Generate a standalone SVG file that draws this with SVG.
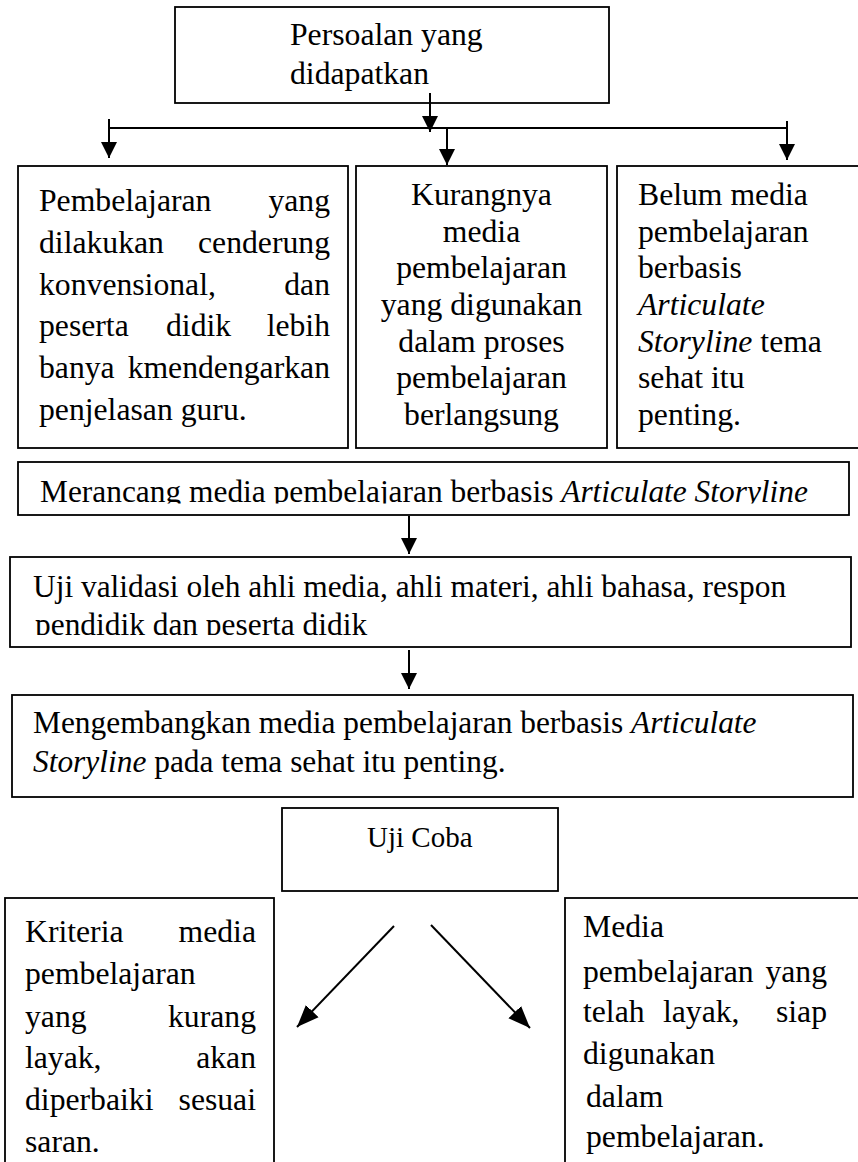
<svg xmlns="http://www.w3.org/2000/svg" width="858" height="1162" viewBox="0 0 858 1162">
<style>
.box{fill:#fff;stroke:#000;stroke-width:1.8}
.t{font-family:"Liberation Serif","Times New Roman",serif;font-size:31.7px;fill:#000}
.w{font-size:31.4px}
.s{font-size:29px}
.i{font-style:italic}
.e{text-anchor:end}
.m{text-anchor:middle}
.c{stroke:#000;stroke-width:2;fill:none}
</style>
<defs>
<marker id="ah" markerUnits="userSpaceOnUse" markerWidth="16" markerHeight="16" refX="15" refY="7.5" orient="auto" viewBox="0 0 15 15"><path d="M0,0 L15,7.5 L0,15 z" fill="#000"/></marker>
<marker id="ah2" markerUnits="userSpaceOnUse" markerWidth="22" markerHeight="18" refX="20" refY="8" orient="auto" viewBox="0 0 20 16"><path d="M0,0 L20,8 L0,16 z" fill="#000"/></marker>
<clipPath id="clip1"><rect x="0" y="462" width="858" height="41.5"/></clipPath>
<clipPath id="clip2"><rect x="0" y="557" width="858" height="78"/></clipPath>
</defs>

<g id="n-persoalan">
<rect class="box" x="175" y="7" width="434" height="96"/>
<text class="t" x="290" y="45">Persoalan yang</text>
<text class="t" x="290" y="84">didapatkan</text>
</g>

<g id="n-konvensional">
<rect class="box" x="18" y="166" width="330" height="282"/>
<text class="t" x="39" y="211">Pembelajaran</text><text class="t e" x="330" y="211">yang</text>
<text class="t" x="39" y="253">dilakukan</text><text class="t e" x="330" y="253">cenderung</text>
<text class="t" x="39" y="295">konvensional,</text><text class="t e" x="330" y="295">dan</text>
<text class="t" x="39" y="336">peserta</text><text class="t" x="166" y="336">didik</text><text class="t e" x="330" y="336">lebih</text>
<text class="t" x="39" y="378">banya</text><text class="t e" x="330" y="378">kmendengarkan</text>
<text class="t" x="39" y="420">penjelasan guru.</text>
</g>

<g id="n-kurangnya">
<rect class="box" x="356" y="166" width="251" height="282"/>
<text class="t m" x="481.5" y="205">Kurangnya</text>
<text class="t m" x="481.5" y="242">media</text>
<text class="t m" x="481.5" y="278">pembelajaran</text>
<text class="t m" x="481.5" y="315">yang digunakan</text>
<text class="t m" x="481.5" y="352">dalam proses</text>
<text class="t m" x="481.5" y="388">pembelajaran</text>
<text class="t m" x="481.5" y="425">berlangsung</text>
</g>

<g id="n-belum">
<rect class="box" x="617" y="166" width="260" height="282"/>
<text class="t" x="638" y="205">Belum media</text>
<text class="t" x="638" y="242">pembelajaran</text>
<text class="t" x="638" y="278">berbasis</text>
<text class="t i" x="638" y="315">Articulate</text>
<text class="t" x="638" y="352"><tspan class="i">Storyline</tspan> tema</text>
<text class="t" x="638" y="388">sehat itu</text>
<text class="t" x="638" y="425">penting.</text>
</g>

<g id="n-merancang">
<rect class="box" x="18" y="462" width="831" height="53"/>
<text class="t w" x="40" y="502" clip-path="url(#clip1)">Merancang media pembelajaran berbasis <tspan class="i">Articulate Storyline</tspan></text>
</g>

<g id="n-validasi">
<rect class="box" x="10" y="557" width="841" height="90"/>
<g clip-path="url(#clip2)">
<text class="t w" x="33" y="597">Uji validasi oleh ahli media, ahli materi, ahli bahasa, respon</text>
<text class="t w" x="35" y="634.5">pendidik dan peserta didik</text>
</g>
</g>

<g id="n-mengembangkan">
<rect class="box" x="12" y="695" width="841" height="102"/>
<text class="t w" x="33" y="733">Mengembangkan media pembelajaran berbasis <tspan class="i">Articulate</tspan></text>
<text class="t w" x="33" y="772"><tspan class="i">Storyline</tspan> pada tema sehat itu penting.</text>
</g>

<g id="n-ujicoba">
<rect class="box" x="282" y="808" width="276" height="83"/>
<text class="t s" x="367" y="847">Uji Coba</text>
</g>

<g id="n-kurang-layak">
<rect class="box" x="5" y="898" width="269" height="290"/>
<text class="t" x="25" y="942">Kriteria</text><text class="t e" x="256" y="942">media</text>
<text class="t" x="25" y="984">pembelajaran</text>
<text class="t" x="25" y="1027">yang</text><text class="t e" x="256" y="1027">kurang</text>
<text class="t" x="25" y="1068">layak,</text><text class="t e" x="256" y="1068">akan</text>
<text class="t" x="25" y="1110">diperbaiki</text><text class="t e" x="256" y="1110">sesuai</text>
<text class="t" x="25" y="1152">saran.</text>
</g>

<g id="n-layak">
<rect class="box" x="565" y="898" width="320" height="290"/>
<text class="t" x="583" y="937">Media</text>
<text class="t" x="583" y="982">pembelajaran</text><text class="t e" x="827" y="982">yang</text>
<text class="t" x="583" y="1022">telah</text><text class="t" x="663" y="1022">layak,</text><text class="t e" x="827" y="1022">siap</text>
<text class="t" x="583" y="1064">digunakan</text>
<text class="t" x="586" y="1107">dalam</text>
<text class="t" x="586" y="1147">pembelajaran.</text>
</g>

<g id="connectors">
<line class="c" x1="109" y1="128" x2="787" y2="128"/>
<line class="c" x1="430" y1="93" x2="430" y2="132" marker-end="url(#ah)"/>
<line class="c" x1="109" y1="119" x2="109" y2="158" marker-end="url(#ah)"/>
<line class="c" x1="447" y1="128" x2="447" y2="165" marker-end="url(#ah)"/>
<line class="c" x1="787" y1="121" x2="787" y2="160" marker-end="url(#ah)"/>
<line class="c" x1="409" y1="516" x2="409" y2="554" marker-end="url(#ah)"/>
<line class="c" x1="409" y1="650" x2="409" y2="689" marker-end="url(#ah)"/>
<line class="c" x1="394" y1="926" x2="297" y2="1027" marker-end="url(#ah2)"/>
<line class="c" x1="431" y1="925" x2="530" y2="1028" marker-end="url(#ah2)"/>
</g>
</svg>
